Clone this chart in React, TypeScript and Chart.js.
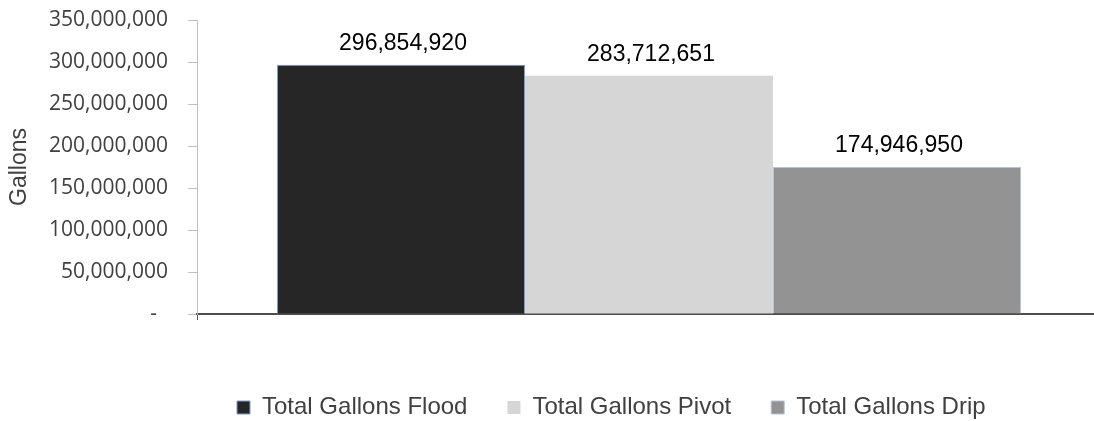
import React, { useEffect, useRef } from "react";
import { Chart, registerables } from "chart.js";

Chart.register(...registerables);

// Irrigation water use by method, one category with three series
const categories: string[] = [""];
const seriesNames: string[] = ["Total Gallons Flood", "Total Gallons Pivot", "Total Gallons Drip"];
const floodValues: number[] = [296854920];
const pivotValues: number[] = [283712651];
const dripValues: number[] = [174946950];
const yTickValues: number[] = [0, 50000000, 100000000, 150000000, 200000000, 250000000, 300000000, 350000000];

const fmt = (v: number) => v.toLocaleString("en-US");

// Writes each bar's value just above its top
const valueLabels = {
  id: "valueLabels",
  afterDatasetsDraw(chart: any) {
    const { ctx } = chart;
    ctx.save();
    ctx.font = '23px "Liberation Sans", Arial, sans-serif';
    ctx.fillStyle = "#000000";
    ctx.textAlign = "center";
    ctx.textBaseline = "alphabetic";
    chart.data.datasets.forEach((ds: any, i: number) => {
      const meta = chart.getDatasetMeta(i);
      meta.data.forEach((bar: any, j: number) => {
        const v = ds.data[j] as number;
        ctx.fillText(fmt(v), bar.x + 2, bar.y - 15);
      });
    });
    ctx.restore();
  },
};

export default function App() {
  const canvasRef = useRef<HTMLCanvasElement | null>(null);

  useEffect(() => {
    if (!canvasRef.current) return;
    const chart = new Chart(canvasRef.current, {
      type: "bar",
      data: {
        labels: categories,
        datasets: [
          {
            label: seriesNames[0],
            data: floodValues,
            backgroundColor: "#262626",
            borderColor: "#7f9ccf",
            borderWidth: 1,
          },
          {
            label: seriesNames[1],
            data: pivotValues,
            backgroundColor: "#d7d6d7",
            borderColor: "#d7d6d7",
            borderWidth: 0,
          },
          {
            label: seriesNames[2],
            data: dripValues,
            backgroundColor: "#939393",
            borderColor: "#b9c3d6",
            borderWidth: 1,
          },
        ],
      },
      options: {
        responsive: false,
        animation: false,
        devicePixelRatio: 1,
        layout: { padding: { top: 20, right: 1, bottom: 0, left: 0 } },
        datasets: {
          bar: { barPercentage: 1, categoryPercentage: 0.823 },
        },
        scales: {
          x: {
            offset: true,
            grid: {
              display: true,
              drawOnChartArea: false,
              drawTicks: true,
              tickLength: 6,
              offset: true,
              color: "#595959",
              lineWidth: 1,
            },
            border: { display: true, color: "#4d4d4d", width: 2 },
            ticks: { display: false },
            afterFit: (s: any) => {
              s.height = 41.5;
            },
          },
          y: {
            min: 0,
            max: 350000000,
            afterBuildTicks: (s: any) => {
              s.ticks = yTickValues.map((value) => ({ value }));
            },
            ticks: {
              padding: 20,
              color: "#404040",
              font: { family: "Open Sans", size: 21 },
              callback: (v: any) => (Number(v) === 0 ? "-  " : fmt(Number(v))),
            },
            grid: {
              drawOnChartArea: false,
              drawTicks: true,
              tickLength: 9,
              color: "#bfbfbf",
            },
            border: { display: true, color: "#bfbfbf", width: 1 },
            title: {
              display: true,
              text: "Gallons",
              color: "#404040",
              font: { family: "Liberation Sans", size: 23 },
              padding: { top: 6, bottom: 0 },
            },
            afterFit: (s: any) => {
              s.width = 197;
              s.paddingTop = 0;
              s.paddingBottom = 0;
            },
          },
        },
        plugins: {
          legend: {
            position: "bottom",
            align: "start",
            fullSize: false,
            maxHeight: 65.5,
            labels: {
              boxWidth: 13,
              boxHeight: 13,
              padding: 40,
              color: "#404040",
              font: { family: "Liberation Sans", size: 24 },
            },
          },
          tooltip: { enabled: false },
        },
      },
      plugins: [valueLabels],
    });
    return () => chart.destroy();
  }, []);

  return (
    <div
      style={{
        position: "fixed",
        left: 0,
        top: 0,
        width: 1094,
        height: 421,
        overflow: "hidden",
        background: "#ffffff",
      }}
    >
      <canvas
        ref={canvasRef}
        width={1102}
        height={421}
        style={{ display: "block", width: 1102, height: 421 }}
      />
    </div>
  );
}
